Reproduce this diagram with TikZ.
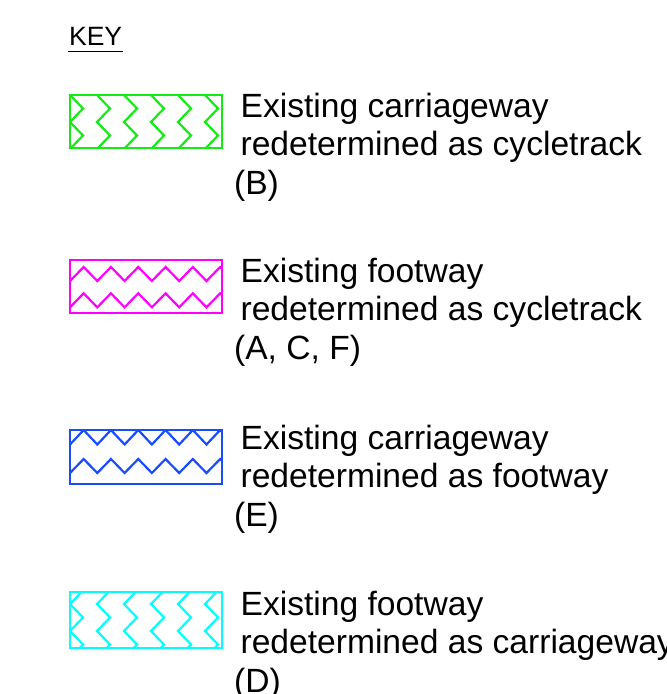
\documentclass[tikz,border=0pt]{standalone}
\usepackage{fontspec}
\setmainfont{Liberation Sans}
\usepackage{tikz}
\usetikzlibrary{positioning}
\definecolor{keygreen}{RGB}{20,235,20}
\definecolor{keymagenta}{RGB}{255,0,255}
\definecolor{keyblue}{RGB}{25,75,255}
\definecolor{keycyan}{RGB}{0,255,255}

\begin{document}
\begin{tikzpicture}[x=1pt, y=-1pt, line width=2.2pt]
\tikzstyle{every node} = [inner sep=0pt, anchor=base west, font=\fontsize{33.6}{38}\selectfont]
\useasboundingbox (0,0) rectangle (667,694);
% heading
\node[font=\fontsize{26.5}{30}\selectfont] (key) at (68,45) {KEY};
\draw[line width=1.5pt] ([yshift=-6.5pt]key.base west) -- ([yshift=-6.5pt]key.base east);
% carriageway to cycletrack
\begin{scope}
\clip (70,95) rectangle (222,148);
\foreach \x in {70,97,...,205}
	\draw[keygreen] (\x,95) -- ++(13,13.5) -- ++(-13,13.5) -- ++(13,13.5) -- ++(-13,13.5);
\end{scope}
\draw[keygreen] (70,95) rectangle (222,148);
% footway to cycletrack
\begin{scope}
\clip (70,260) rectangle (222,313);
\draw[keymagenta] (70,281) \foreach \i in {1,...,6} { -- ++(13.65,-14) -- ++(13.65,14) };
\draw[keymagenta] (70,307.3) \foreach \i in {1,...,6} { -- ++(13.65,-14) -- ++(13.65,14) };
\end{scope}
\draw[keymagenta] (70,260) rectangle (222,313);
% carriageway to footway
\begin{scope}
\clip (70,430) rectangle (222,484);
\draw[keyblue] (70,444.5) \foreach \i in {1,...,6} { -- ++(13.65,-14.5) -- ++(13.65,14.5) };
\draw[keyblue] (70,473) \foreach \i in {1,...,6} { -- ++(13.65,-14) -- ++(13.65,14) };
\end{scope}
\draw[keyblue] (70,430) rectangle (222,484);
% footway to carriageway
\begin{scope}
\clip (70,592) rectangle (222,648);
\foreach \x in {70,97,...,205}
	\draw[keycyan] (\x+13,590.5) -- ++(-13,13.5) -- ++(13,13.5) -- ++(-13,13.5) -- ++(13,13.5) -- ++(-13,13.5);
\end{scope}
\draw[keycyan] (70,592) rectangle (222,648);
% labels
\node (b1a) at (239.5,117) {Existing carriageway};
\node (b1b) at (239.5,155.5) {redetermined as cycletrack};
\node (b1c) at (233,194) {(B)};
\node (b2a) at (239.5,282) {Existing footway};
\node (b2b) at (239.5,320.5) {redetermined as cycletrack};
\node (b2c) at (233,359) {(A, C, F)};
\node (b3a) at (239.5,449) {Existing carriageway};
\node (b3b) at (239.5,487.5) {redetermined as footway};
\node (b3c) at (233,526) {(E)};
\node (b4a) at (239.5,615) {Existing footway};
\node (b4b) at (239.5,653.5) {redetermined as carriageway};
\node (b4c) at (233,692) {(D)};
\end{tikzpicture}
\end{document}
